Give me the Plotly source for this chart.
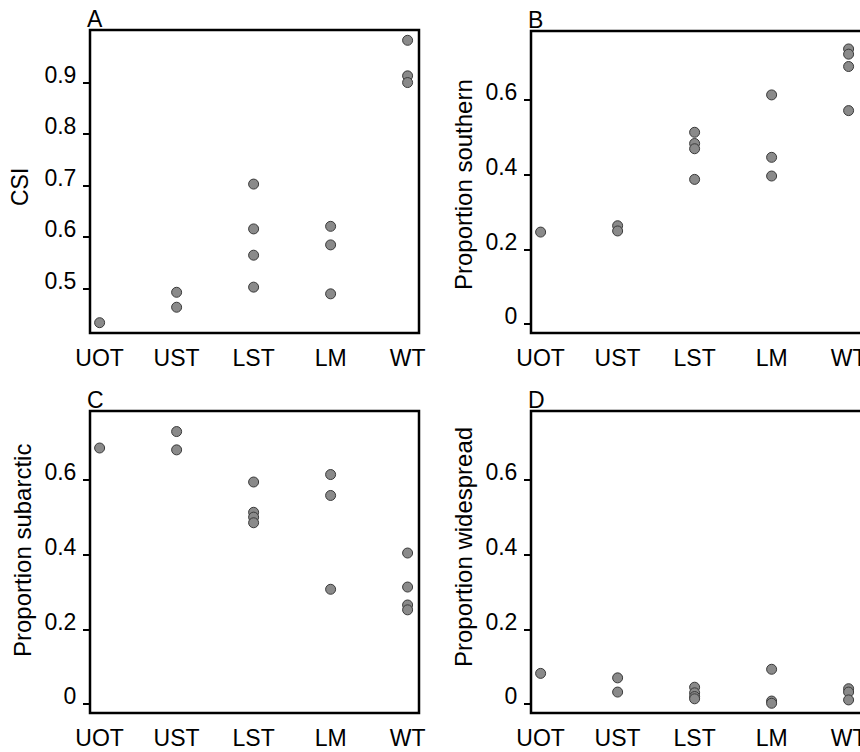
import plotly.graph_objects as go

W, H = 860, 752

categories = ["UOT", "UST", "LST", "LM", "WT"]

csi_groups = ["UOT", "UST", "UST", "LST", "LST", "LST", "LST", "LM", "LM", "LM", "WT", "WT", "WT"]
csi_values = [0.434, 0.493, 0.464, 0.703, 0.616, 0.565, 0.503, 0.621, 0.585, 0.490, 0.982, 0.913, 0.900]

south_groups = ["UOT", "UST", "UST", "LST", "LST", "LST", "LST", "LM", "LM", "LM", "WT", "WT", "WT", "WT"]
south_values = [0.247, 0.264, 0.250, 0.514, 0.484, 0.470, 0.388, 0.614, 0.447, 0.397, 0.737, 0.723, 0.690, 0.572]

subarctic_groups = ["UOT", "UST", "UST", "LST", "LST", "LST", "LST", "LM", "LM", "LM", "WT", "WT", "WT", "WT"]
subarctic_values = [0.686, 0.730, 0.681, 0.595, 0.514, 0.501, 0.486, 0.615, 0.559, 0.308, 0.405, 0.314, 0.266, 0.253]

wide_groups = ["UOT", "UST", "UST", "LST", "LST", "LST", "LST", "LM", "LM", "LM", "WT", "WT", "WT"]
wide_values = [0.083, 0.071, 0.033, 0.046, 0.031, 0.021, 0.015, 0.094, 0.009, 0.003, 0.042, 0.033, 0.012]

csi_ticks = [0.5, 0.6, 0.7, 0.8, 0.9]
csi_ticktext = ["0.5", "0.6", "0.7", "0.8", "0.9"]
prop_ticks = [0, 0.2, 0.4, 0.6]
prop_ticktext = ["0", "0.2", "0.4", "0.6"]

panel_letters = ["A", "B", "C", "D"]
y_titles = ["CSI", "Proportion southern", "Proportion subarctic", "Proportion widespread"]

FONT = "Liberation Sans, Arial, Helvetica, sans-serif"

# panel boxes in pixels: (left, right, top, bottom)
boxes = [(90, 419, 30, 333), (531, 860, 31, 333), (90, 419, 411, 713), (531, 860, 411, 713)]
yranges = [[0.414, 1.002], [-0.023, 0.785], [-0.023, 0.785], [-0.023, 0.785]]
xrange_ = [-0.125, 4.148]
title_pos = [(20, 187), (463, 185), (22, 551), (463, 547)]

series = [(csi_groups, csi_values), (south_groups, south_values),
          (subarctic_groups, subarctic_values), (wide_groups, wide_values)]

fig = go.Figure()
layout = dict(width=W, height=H, margin=dict(l=0, r=0, t=0, b=0, autoexpand=False),
              paper_bgcolor="white", plot_bgcolor="white", showlegend=False,
              font=dict(family=FONT, color="black", size=23))
shapes = []
annotations = []

def px(x):
    return x / W

def py(y):
    return 1 - y / H

for i, (grp, vals) in enumerate(series):
    n = i + 1
    xa = "x" if n == 1 else f"x{n}"
    ya = "y" if n == 1 else f"y{n}"
    fig.add_trace(go.Scatter(
        x=grp, y=vals, mode="markers", xaxis=xa, yaxis=ya, cliponaxis=False,
        marker=dict(size=10, color="#8a8a8a", line=dict(color="#3a3a3a", width=1)),
        hoverinfo="skip"))
    l, r, t, b = boxes[i]
    key = "" if n == 1 else str(n)
    layout["xaxis" + key] = dict(
        domain=[px(l), min(px(r), 1.0)], anchor=ya, range=xrange_, automargin=False,
        type="category", categoryorder="array", categoryarray=categories,
        showgrid=False, zeroline=False, showline=False, ticks="",
        ticklabelstandoff=9, tickfont=dict(size=23, family=FONT, color="black"),
        fixedrange=True)
    if i == 0:
        tv, tt = csi_ticks, csi_ticktext
    else:
        tv, tt = prop_ticks, prop_ticktext
    layout["yaxis" + key] = dict(
        domain=[py(b), py(t)], anchor=xa, range=yranges[i], automargin=False,
        tickvals=tv, ticktext=tt, showgrid=False, zeroline=False, showline=False,
        ticks="outside", ticklen=6, tickwidth=2, tickcolor="black",
        ticklabelshift=-8, ticklabelstandoff=2,
        tickfont=dict(size=23, family=FONT, color="black"), fixedrange=True)
    shapes.append(dict(type="rect", xref="paper", yref="paper",
                       x0=px(l), x1=px(r) + (0.05 if r >= 860 else 0),
                       y0=py(b), y1=py(t),
                       line=dict(color="black", width=2.5), fillcolor="rgba(0,0,0,0)",
                       layer="above"))
    annotations.append(dict(text=panel_letters[i], xref="paper", yref="paper",
                            x=px(l - 5), y=py(t - 11), xanchor="left", yanchor="middle",
                            showarrow=False, font=dict(size=23, family=FONT, color="black")))
    tx, ty = title_pos[i]
    annotations.append(dict(text=y_titles[i], xref="paper", yref="paper",
                            x=px(tx), y=py(ty), xanchor="center", yanchor="middle",
                            textangle=-90, showarrow=False,
                            font=dict(size=24 if i > 0 else 23, family=FONT, color="black")))

layout["shapes"] = shapes
layout["annotations"] = annotations
fig.update_layout(**layout)
fig.write_html("out.html", config={"displayModeBar": False},
               post_script="document.body.style.margin='0';document.body.style.overflow='hidden';")
